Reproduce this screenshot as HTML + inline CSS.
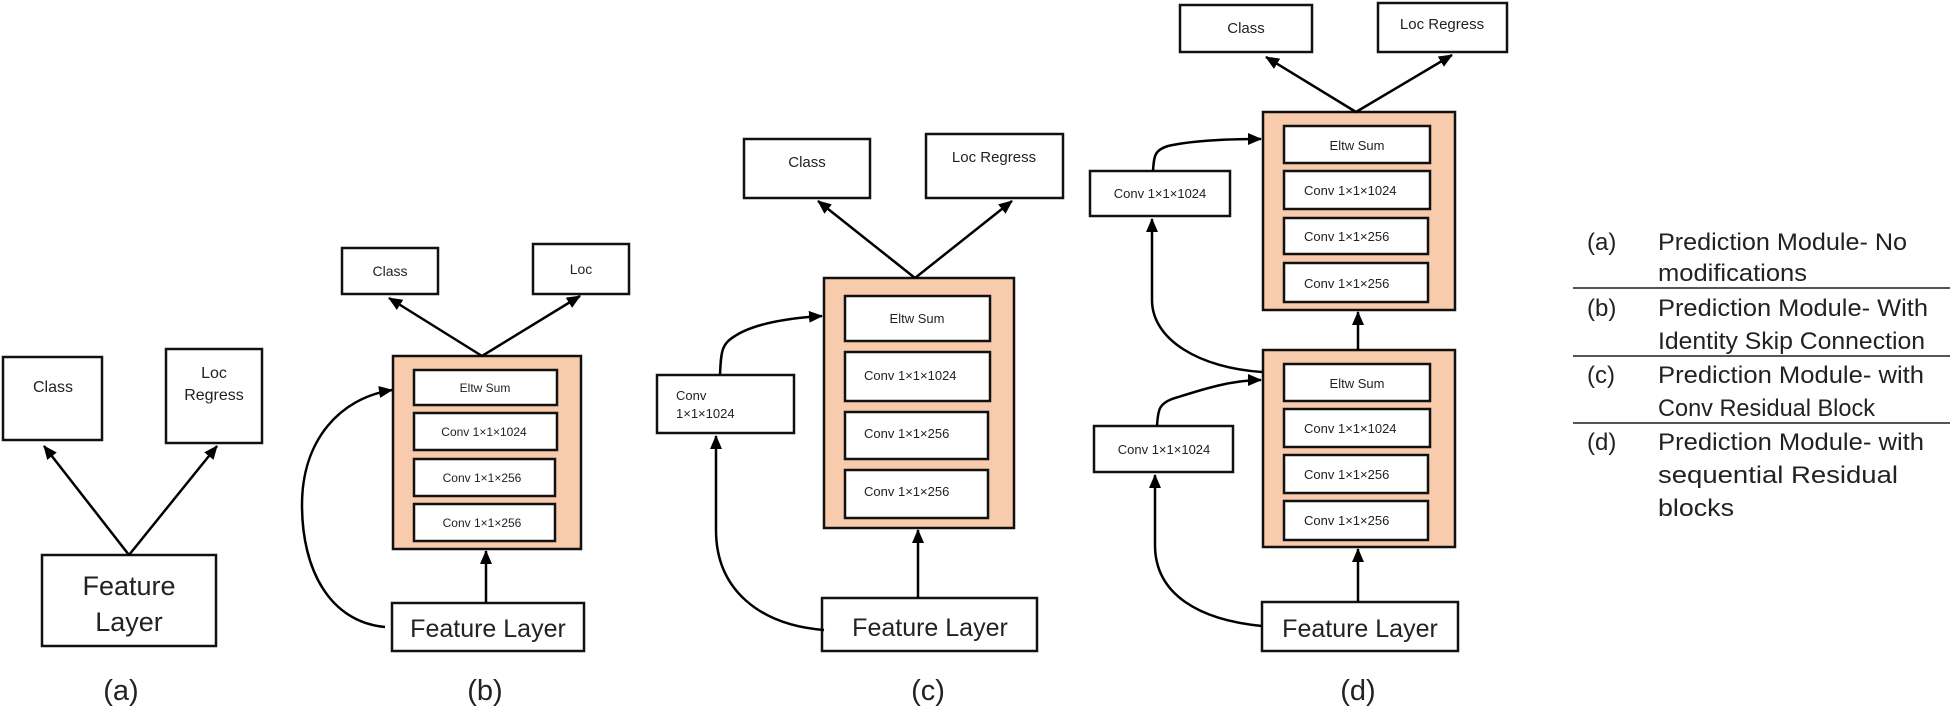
<!DOCTYPE html>
<html><head><meta charset="utf-8"><style>
html,body{margin:0;padding:0;background:#fff;}
svg{display:block;}
text{font-family:"Liberation Sans",sans-serif;fill:#222;}
</style></head><body>
<svg width="1955" height="711" viewBox="0 0 1955 711" xmlns="http://www.w3.org/2000/svg">
<defs>
<marker id="ah" markerWidth="14" markerHeight="12" refX="13" refY="6" orient="auto" markerUnits="userSpaceOnUse" viewBox="0 0 14 12">
<path d="M0,0 L14,6 L0,12 z" fill="#000"/>
</marker>
</defs>
<g stroke="#111" stroke-width="2.5" fill="#fff">
<rect x="3" y="357" width="99" height="83"/>
<rect x="166" y="349" width="96" height="94"/>
<rect x="42" y="555" width="174" height="91"/>
<rect x="342" y="248" width="96" height="46"/>
<rect x="533" y="244" width="96" height="50"/>
<rect x="393" y="356" width="188" height="193" fill="#f8cbad"/>
<rect x="414" y="370" width="143" height="35"/>
<rect x="414" y="413" width="143" height="37"/>
<rect x="414" y="459" width="141" height="37"/>
<rect x="414" y="504" width="141" height="37"/>
<rect x="392" y="603" width="192" height="48"/>
<rect x="744" y="139" width="126" height="59"/>
<rect x="926" y="134" width="137" height="64"/>
<rect x="824" y="278" width="190" height="250" fill="#f8cbad"/>
<rect x="845" y="296" width="145" height="45"/>
<rect x="845" y="352" width="145" height="49"/>
<rect x="845" y="412" width="143" height="47"/>
<rect x="845" y="470" width="143" height="48"/>
<rect x="657" y="375" width="137" height="58"/>
<rect x="822" y="598" width="215" height="53"/>
<rect x="1180" y="5" width="132" height="47"/>
<rect x="1378" y="3" width="129" height="49"/>
<rect x="1263" y="112" width="192" height="198" fill="#f8cbad"/>
<rect x="1284" y="126" width="146" height="37"/>
<rect x="1284" y="171" width="146" height="38"/>
<rect x="1284" y="218" width="144" height="36"/>
<rect x="1284" y="263" width="144" height="39"/>
<rect x="1090" y="171" width="140" height="45"/>
<rect x="1263" y="350" width="192" height="197" fill="#f8cbad"/>
<rect x="1284" y="364" width="146" height="37"/>
<rect x="1284" y="409" width="146" height="38"/>
<rect x="1284" y="455" width="144" height="38"/>
<rect x="1284" y="501" width="144" height="39"/>
<rect x="1094" y="426" width="139" height="46"/>
<rect x="1262" y="602" width="196" height="49"/>
</g>
<g stroke="#000" stroke-width="2.5" fill="none" marker-end="url(#ah)">
<line x1="129" y1="555" x2="44" y2="446"/>
<line x1="129" y1="555" x2="217" y2="446"/>
<line x1="482" y1="356" x2="389" y2="298"/>
<line x1="482" y1="356" x2="580" y2="296"/>
<line x1="486" y1="603" x2="486" y2="551"/>
<path d="M385,627 C330,622 302,570 302,505 C302,440 340,398 392,390"/>
<line x1="915" y1="278" x2="818" y2="201"/>
<line x1="915" y1="278" x2="1012" y2="201"/>
<line x1="918" y1="598" x2="918" y2="530"/>
<path d="M824,630 C760,625 716,590 716,530 L716,436"/>
<path d="M720,375 C721,350 722,344 735,336 C755,323 790,318 822,316"/>
<line x1="1356" y1="112" x2="1266" y2="57"/>
<line x1="1356" y1="112" x2="1452" y2="55"/>
<line x1="1358" y1="350" x2="1358" y2="312"/>
<line x1="1358" y1="602" x2="1358" y2="549"/>
<path d="M1262,626 C1200,620 1155,595 1155,545 L1155,475"/>
<path d="M1262,372 C1200,368 1152,340 1152,300 L1152,219"/>
<path d="M1153,171 C1154,155 1155,150 1168,146 C1190,141 1225,139 1261,139"/>
<path d="M1157,426 C1158,410 1159,404 1172,399 C1195,392 1228,380 1261,380"/>
</g>
<g font-size="16" text-anchor="middle">
<text x="53" y="392">Class</text>
<text x="214" y="378">Loc</text>
<text x="214" y="400">Regress</text>
</g>
<g font-size="27" text-anchor="middle">
<text x="129" y="595">Feature</text>
<text x="129" y="631">Layer</text>
<text x="121" y="700" font-size="29">(a)</text>
<text x="488" y="637" font-size="25">Feature Layer</text>
<text x="485" y="700" font-size="29">(b)</text>
<text x="930" y="636" font-size="25">Feature Layer</text>
<text x="928" y="700" font-size="29">(c)</text>
<text x="1360" y="637" font-size="25">Feature Layer</text>
<text x="1358" y="700" font-size="29">(d)</text>
</g>
<g font-size="14" text-anchor="middle">
<text x="390" y="276">Class</text>
<text x="581" y="274">Loc</text>
<text x="807" y="167" font-size="15">Class</text>
<text x="994" y="162" font-size="15">Loc Regress</text>
<text x="1246" y="33" font-size="15">Class</text>
<text x="1442" y="29" font-size="15">Loc Regress</text>
</g>
<g font-size="12" text-anchor="middle">
<text x="485" y="392">Eltw Sum</text>
<text x="484" y="436">Conv 1×1×1024</text>
<text x="482" y="482">Conv 1×1×256</text>
<text x="482" y="527">Conv 1×1×256</text>
</g>
<g font-size="13">
<text x="917" y="323" text-anchor="middle">Eltw Sum</text>
<text x="864" y="380">Conv 1×1×1024</text>
<text x="864" y="438">Conv 1×1×256</text>
<text x="864" y="496">Conv 1×1×256</text>
<text x="676" y="400">Conv</text>
<text x="676" y="418">1×1×1024</text>
<text x="1357" y="150" text-anchor="middle">Eltw Sum</text>
<text x="1304" y="195">Conv 1×1×1024</text>
<text x="1304" y="241">Conv 1×1×256</text>
<text x="1304" y="288">Conv 1×1×256</text>
<text x="1160" y="198" text-anchor="middle">Conv 1×1×1024</text>
<text x="1357" y="388" text-anchor="middle">Eltw Sum</text>
<text x="1304" y="433">Conv 1×1×1024</text>
<text x="1304" y="479">Conv 1×1×256</text>
<text x="1304" y="525">Conv 1×1×256</text>
<text x="1164" y="454" text-anchor="middle">Conv 1×1×1024</text>
</g>
<g font-size="24">
<text x="1587" y="250">(a)</text>
<text x="1658" y="250" textLength="249" lengthAdjust="spacingAndGlyphs">Prediction Module- No</text>
<text x="1658" y="281" textLength="149" lengthAdjust="spacingAndGlyphs">modifications</text>
<text x="1587" y="316">(b)</text>
<text x="1658" y="316" textLength="270" lengthAdjust="spacingAndGlyphs">Prediction Module- With</text>
<text x="1658" y="349" textLength="267" lengthAdjust="spacingAndGlyphs">Identity Skip Connection</text>
<text x="1587" y="383">(c)</text>
<text x="1658" y="383" textLength="266" lengthAdjust="spacingAndGlyphs">Prediction Module- with</text>
<text x="1658" y="416" textLength="217" lengthAdjust="spacingAndGlyphs">Conv Residual Block</text>
<text x="1587" y="450">(d)</text>
<text x="1658" y="450" textLength="266" lengthAdjust="spacingAndGlyphs">Prediction Module- with</text>
<text x="1658" y="483" textLength="240" lengthAdjust="spacingAndGlyphs">sequential Residual</text>
<text x="1658" y="516" textLength="76" lengthAdjust="spacingAndGlyphs">blocks</text>
</g>
<g stroke="#555" stroke-width="2">
<line x1="1573" y1="288" x2="1950" y2="288"/>
<line x1="1573" y1="356" x2="1950" y2="356"/>
<line x1="1573" y1="423" x2="1950" y2="423"/>
</g>
</svg>
</body></html>
